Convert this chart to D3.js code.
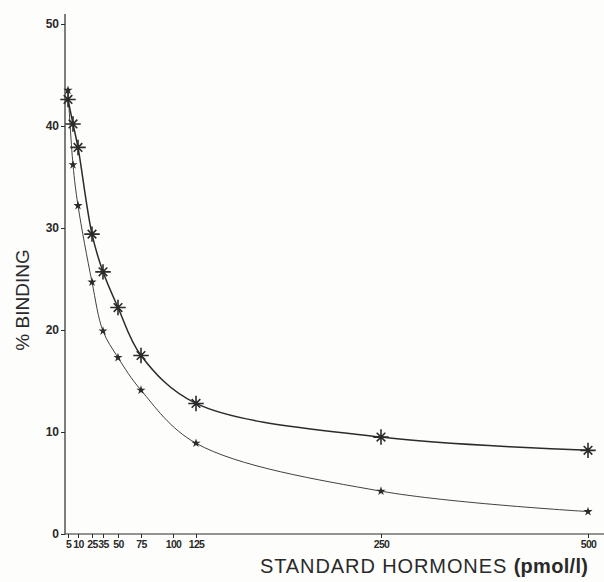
<!DOCTYPE html>
<html><head><meta charset="utf-8">
<script src="https://cdn.jsdelivr.net/npm/d3@7"></script>
<style>
html,body{margin:0;padding:0;background:#fdfdfb;}
svg{display:block;}
text{font-family:"Liberation Sans",Arial,sans-serif;fill:#2a2a2a;}
</style></head>
<body>
<svg id="c" width="604" height="582"></svg>
<script>
// ---- data ----
const xTicks = [5, 10, 25, 35, 50, 75, 100, 125, 250, 500];
const yTicks = [0, 10, 20, 30, 40, 50];
const doses = [5, 7.5, 10, 25, 35, 50, 75, 125, 250, 500];
const upperSeries = [42.6, 40.2, 37.9, 29.4, 25.7, 22.2, 17.5, 12.8, 9.5, 8.2];
const lowerSeries = [43.5, 36.2, 32.2, 24.7, 19.9, 17.3, 14.1, 8.9, 4.2, 2.2];
const xTitle = "STANDARD HORMONES";
const xUnit = "(pmol/l)";
const yTitle = "% BINDING";

const ink = "#2b2b2b";
const svg = d3.select("#c");
svg.append("rect").attr("width",604).attr("height",582).attr("fill","#fdfdfb");

// hand-drawn, non-uniform dose axis -> polylinear scale
const x = d3.scaleLinear()
  .domain([0, 5, 10, 25, 35, 50, 75, 100, 125, 250, 500])
  .range([65, 68, 78, 92, 103, 118, 141, 173, 196, 381, 588]);
const y = d3.scaleLinear().domain([0, 50]).range([534, 24]);

// axes
const gx = svg.append("g").attr("transform","translate(0,534)")
  .call(d3.axisBottom(x).tickValues(xTicks).tickSize(4).tickPadding(3).tickFormat(d3.format("d")));
gx.select(".domain").remove();
gx.selectAll("line").attr("stroke",ink).attr("stroke-width",1);
gx.selectAll("text").attr("font-size",10.5).attr("font-weight","bold").attr("letter-spacing","-0.6").attr("fill",ink);
svg.append("line").attr("x1",x(0)).attr("x2",604).attr("y1",y(0)).attr("y2",y(0))
  .attr("stroke",ink).attr("stroke-width",1.2);

const gy = svg.append("g").attr("transform","translate(65,0)")
  .call(d3.axisLeft(y).tickValues(yTicks).tickSize(4).tickPadding(2).tickFormat(d3.format("d")));
gy.select(".domain").remove();
gy.selectAll("line").attr("stroke",ink).attr("stroke-width",1);
gy.selectAll("text").attr("font-size",12).attr("font-weight","bold").attr("fill",ink);
svg.append("line").attr("x1",x(0)).attr("x2",x(0)).attr("y1",y(0)).attr("y2",14)
  .attr("stroke",ink).attr("stroke-width",1.2);

// titles
svg.append("text").attr("transform","translate(29,300) rotate(-90)")
  .attr("text-anchor","middle").attr("font-size",19).attr("fill",ink).text(yTitle);
const t = svg.append("text").attr("x",260).attr("y",573).attr("font-size",20).attr("letter-spacing","0.9").attr("fill",ink);
t.append("tspan").text(xTitle + " ");
t.append("tspan").attr("font-weight","bold").attr("letter-spacing","0.3").text(xUnit);

// curves
const line = d3.line().x(d => x(d[0])).y(d => y(d[1])).curve(d3.curveCatmullRom.alpha(0.5));
const up = doses.map((d,i) => [d, upperSeries[i]]);
const lo = doses.map((d,i) => [d, lowerSeries[i]]);
svg.append("path").attr("d", line(up)).attr("fill","none").attr("stroke",ink).attr("stroke-width",1.5);
svg.append("path").attr("d", line(lo)).attr("fill","none").attr("stroke",ink).attr("stroke-width",0.9);

// markers: 8-armed asterisk (upper), small star (lower)
const gu = svg.append("g").selectAll("g").data(up).join("g")
  .attr("transform", d => `translate(${x(d[0])},${y(d[1])})`);
gu.append("path").attr("d", d3.symbol().type(d3.symbolTimes).size(50)).attr("fill","none").attr("stroke",ink).attr("stroke-width",1.6);
gu.append("path").attr("d", d3.symbol().type(d3.symbolPlus).size(80)).attr("fill","none").attr("stroke",ink).attr("stroke-width",1.6);
gu.append("circle").attr("r",2.3).attr("fill",ink);

svg.append("g").selectAll("path").data(lo).join("path")
  .attr("transform", d => `translate(${x(d[0])},${y(d[1])})`)
  .attr("d", d3.symbol().type(d3.symbolStar).size(26)).attr("fill",ink);
</script>
</body></html>
